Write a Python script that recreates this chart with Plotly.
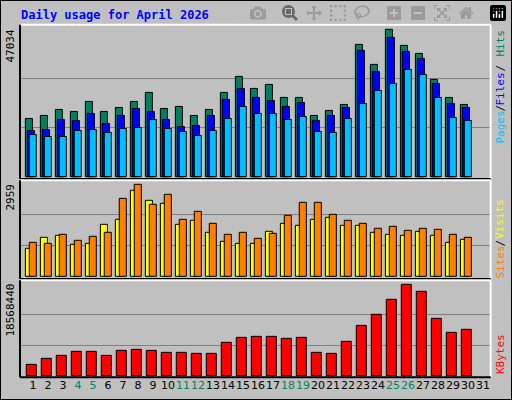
import plotly.graph_objects as go

days = list(range(1, 31))
hits = [18585,19543,21460,20821,24016,20821,22099,24016,26891,21779,22418,19543,21460,26891,32003,
        28169,29447,25294,25294,19543,21140,23057,42227,35837,47034,41908,39352,31045,25294,23057]
files = [14750,15070,18265,17945,20182,16987,19543,21779,20821,18265,16028,16348,19543,24654,28169,
         25294,24335,22418,23696,17945,19543,22099,40310,33600,44464,39990,37754,29767,23376,22099]
pages = [13472,12833,12833,14750,15070,14111,15389,15709,18265,15389,14431,13153,14750,18584,22418,
         20182,20182,18265,19223,14431,14111,18584,23376,27530,29767,34240,32642,25294,18904,17945]
sites = [900,1254,1319,1029,1061,1672,1833,2766,2444,2348,1672,1801,1415,1126,1061,
         1061,1447,1704,1640,1833,1897,1640,1640,1415,1351,1319,1447,1319,1093,1190]
visits = [1093,1061,1351,1158,1286,1415,2508,2959,2315,2637,1833,2090,1704,1351,1415,
          1222,1383,1962,2380,2380,1994,1801,1704,1544,1608,1479,1544,1511,1351,1254]
kbytes = [2304000,3524000,4134000,4947000,4947000,4134000,5150000,5354000,5150000,4744000,4744000,
          4540000,4540000,6777000,7793000,7997000,7997000,7590000,7793000,4744000,4540000,6980000,
          10233000,12469000,15519000,18568440,17145000,11656000,8810000,9420000]
tick_days = list(range(1, 32))
weekend = {4, 5, 11, 12, 18, 19, 25, 26}
max_hits, max_visits, max_kb = 47034, 2959, 18568440

BG = "#C0C0C0"
line = dict(color="black", width=1)
fig = go.Figure()
def bar(y, color, width, offset, xa, ya):
    fig.add_trace(go.Bar(x=days, y=y, width=width, offset=offset, marker=dict(color=color, line=line),
                         xaxis=xa, yaxis=ya, showlegend=False, hoverinfo="skip"))
bar(hits, "#008060", 0.47, -0.51, "x", "y")
bar(files, "#0000FF", 0.47, -0.38, "x", "y")
bar(pages, "#00C0FF", 0.47, -0.25, "x", "y")
bar(sites, "#FFFF00", 0.47, -0.51, "x2", "y2")
bar(visits, "#FF8000", 0.47, -0.25, "x2", "y2")
bar(kbytes, "#FF0000", 0.67, -0.45, "x3", "y3")

xr = [0.133, 31.51]
xdom = [20/512, 490.7/512]
ticktext = [f"<span style='color:{'#008060' if d in weekend else 'black'}'>{d}</span>" for d in tick_days]
ax_common = dict(range=xr, domain=xdom, showgrid=False, zeroline=False, fixedrange=True)
def yax(dom, rng, m):
    return dict(domain=dom, range=rng, tickvals=[m/3, 2*m/3], showticklabels=False, ticks="",
                showgrid=True, gridcolor="#808080", gridwidth=1, zeroline=False)
fig.update_layout(
    width=512, height=400, autosize=False, margin=dict(l=0, r=0, t=0, b=0),
    paper_bgcolor=BG, plot_bgcolor=BG, barmode="overlay",
    font=dict(family="DejaVu Sans Mono", size=11, color="black"),
    xaxis=dict(**ax_common, anchor="y", showticklabels=False),
    xaxis2=dict(**ax_common, anchor="y2", showticklabels=False),
    xaxis3=dict(**ax_common, anchor="y3", tickvals=tick_days, ticktext=ticktext, ticks="",
                tickangle=0, ticklen=0, tickfont=dict(family="DejaVu Sans", size=11)),
    yaxis=yax([1-179/400, 1-24.7/400], [-734, 48501], max_hits),
    yaxis2=yax([1-279/400, 1-180.3/400], [-87, 3088], max_visits),
    yaxis3=yax([1-377.3/400, 1-280.3/400], [-325000, 19381000], max_kb),
)
shapes = [dict(type="rect", xref="paper", yref="paper", x0=0, x1=1, y0=0, y1=1, line=dict(color="black", width=2))]
for (y0, y1) in [(179, 24.7), (279, 180.3), (377.3, 280.3)]:
    b, t = 1-y0/400, 1-y1/400
    shapes += [
        dict(type="line", xref="paper", yref="paper", x0=xdom[0], x1=xdom[1], y0=t, y1=t, line=dict(color="white", width=2)),
        dict(type="line", xref="paper", yref="paper", x0=xdom[1], x1=xdom[1], y0=b, y1=t, line=dict(color="white", width=2)),
        dict(type="line", xref="paper", yref="paper", x0=xdom[0], x1=xdom[0], y0=b, y1=t, line=dict(color="black", width=2)),
        dict(type="line", xref="paper", yref="paper", x0=xdom[0], x1=xdom[1], y0=b, y1=b, line=dict(color="black", width=2)),
    ]
fig.update_layout(shapes=shapes)

def ann(text, x, ytop, color="black", ybottom=False):
    fig.add_annotation(text=text, x=x/512, y=1-ytop/400, xref="paper", yref="paper", showarrow=False,
                       textangle=-90, xanchor="center", yanchor="bottom" if ybottom else "top",
                       font=dict(family="DejaVu Sans Mono", size=11, color=color))
fig.add_annotation(text="<b>Daily usage for April 2026</b>", x=19/512, y=1-15/400, xref="paper", yref="paper",
                   showarrow=False, xanchor="left", yanchor="middle",
                   font=dict(family="DejaVu Sans Mono", size=12, color="#0000FF"))
ann(str(max_hits), 10, 28)
ann(str(max_visits), 10, 182)
ann(str(max_kb), 10, 282)
# right-side legends, stacked bottom-to-top
ann("Hits", 500, 28, "#008060")
ann("/", 500, 63, "#000000")
ann("Files", 500, 71, "#0000FF")
ann("/", 500, 103, "#000000")
ann("Pages", 500, 109, "#00C0FF")
ann("Visits", 500, 197, "#FFFF00")
ann("/", 500, 238, "#000000")
ann("Sites", 500, 244, "#FF8000")
ann("KBytes", 500, 376, "#FF0000", ybottom=True)
fig.write_html("out.html", post_script="document.body.style.margin='0';document.body.style.overflow='hidden';")
